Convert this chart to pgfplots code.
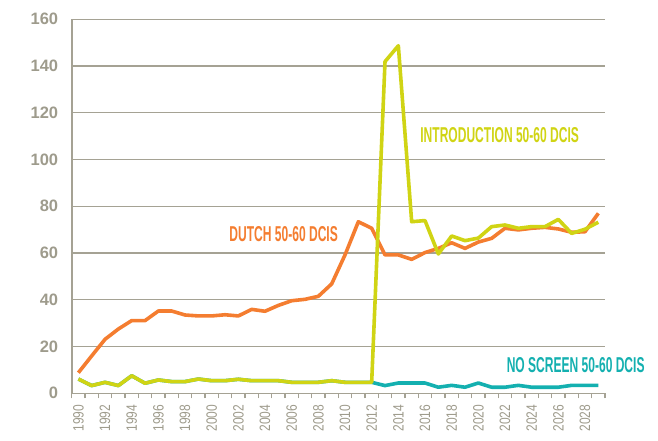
\documentclass[border=0pt]{standalone}
\usepackage{pgfplots}
\usepackage{pgfplotstable}
\pgfplotsset{compat=1.18}
\usepackage{fontspec}
\setmainfont{Liberation Sans}
\newfontfamily\condfont[FakeStretch=0.56]{Liberation Sans}
\newfontfamily\tickfont[FakeStretch=0.8]{Liberation Sans}

\definecolor{dutch}{RGB}{244,125,48}
\definecolor{intro}{RGB}{208,212,20}
\definecolor{noscr}{RGB}{20,176,176}
\definecolor{gridc}{RGB}{165,162,148}
\definecolor{gtext}{RGB}{158,155,140}

% year, dutch, introduction, no screen
\pgfplotstableread{
year dutch intro noscr
1990 8.8  6.1   6.1
1991 16.0 3.3   3.3
1992 23.1 4.7   4.7
1993 27.5 3.3   3.3
1994 31.1 7.5   7.5
1995 31.1 4.3   4.3
1996 35.2 5.7   5.7
1997 35.2 5.0   5.0
1998 33.5 5.0   5.0
1999 33.1 6.1   6.1
2000 33.1 5.4   5.4
2001 33.6 5.4   5.4
2002 33.1 6.0   6.0
2003 35.9 5.4   5.4
2004 35.1 5.4   5.4
2005 37.6 5.4   5.4
2006 39.6 4.7   4.7
2007 40.2 4.7   4.7
2008 41.5 4.7   4.7
2009 46.8 5.4   5.4
2010 59.2 4.7   4.7
2011 73.4 4.7   4.7
2012 70.6 4.7   4.7
2013 59.2 141.9 3.3
2014 59.2 148.7 4.4
2015 57.3 73.4  4.4
2016 60.2 73.9  4.4
2017 62.0 59.6  2.6
2018 64.4 67.3  3.4
2019 62.0 65.3  2.6
2020 64.7 66.4  4.4
2021 66.3 71.3  2.6
2022 70.6 72.0  2.6
2023 69.9 70.6  3.4
2024 70.6 71.3  2.6
2025 71.0 71.3  2.6
2026 70.3 74.4  2.6
2027 68.9 68.4  3.4
2028 69.1 70.2  3.4
2029 77.0 73.2  3.4
}\dcis

\begin{document}
\begin{tikzpicture}[x=1pt,y=1pt]
\useasboundingbox (-71.7,-47.7) rectangle (586.3,393.3);
\begin{axis}[
    scale only axis, width=533.3pt, height=374pt,
    xmin=1989.5, xmax=2029.5, ymin=0, ymax=160,
    axis x line*=bottom, axis y line*=left,
    axis line style={draw=gridc, line width=1.6pt},
    ytick={0,20,...,160}, ymajorgrids,
    grid style={draw=gridc, line width=1.3pt},
    xtick={1990,1992,...,2028},
    minor xtick={1989.5,1990.5,...,2029.5},
    major tick length=0pt, minor tick length=5pt, tick align=outside,
    minor tick style={draw=gridc, line width=1.2pt},
    /pgf/number format/1000 sep={},
    /pgf/number format/assume math mode=true,
    xticklabel style={rotate=90, anchor=east, text=gtext,
        font=\tickfont\fontsize{15}{15}\selectfont, xshift=3pt},
    xticklabel shift=11pt,
    yticklabel style={text=gtext, font=\bfseries\fontsize{16.5}{16.5}\selectfont},
    yticklabel shift=10pt,
    clip=false,
  ]
  \addplot[noscr, line width=3.6pt, line join=round, no marks] table[x=year, y=noscr] {\dcis};
  \addplot[dutch, line width=3.6pt, line join=round, no marks] table[x=year, y=dutch] {\dcis};
  \addplot[intro, line width=3.6pt, line join=round, no marks] table[x=year, y=intro] {\dcis};
  \node[dutch, font=\condfont\bfseries\fontsize{21.5}{21.5}\selectfont] at (axis cs:2005.4,67.9) {DUTCH 50-60 DCIS};
  \node[intro, font=\condfont\bfseries\fontsize{21.5}{21.5}\selectfont] at (axis cs:2021.6,110.3) {INTRODUCTION 50-60 DCIS};
  \node[noscr, font=\condfont\bfseries\fontsize{21.5}{21.5}\selectfont] at (axis cs:2027.3,11.9) {NO SCREEN 50-60 DCIS};
\end{axis}
\end{tikzpicture}
\end{document}
